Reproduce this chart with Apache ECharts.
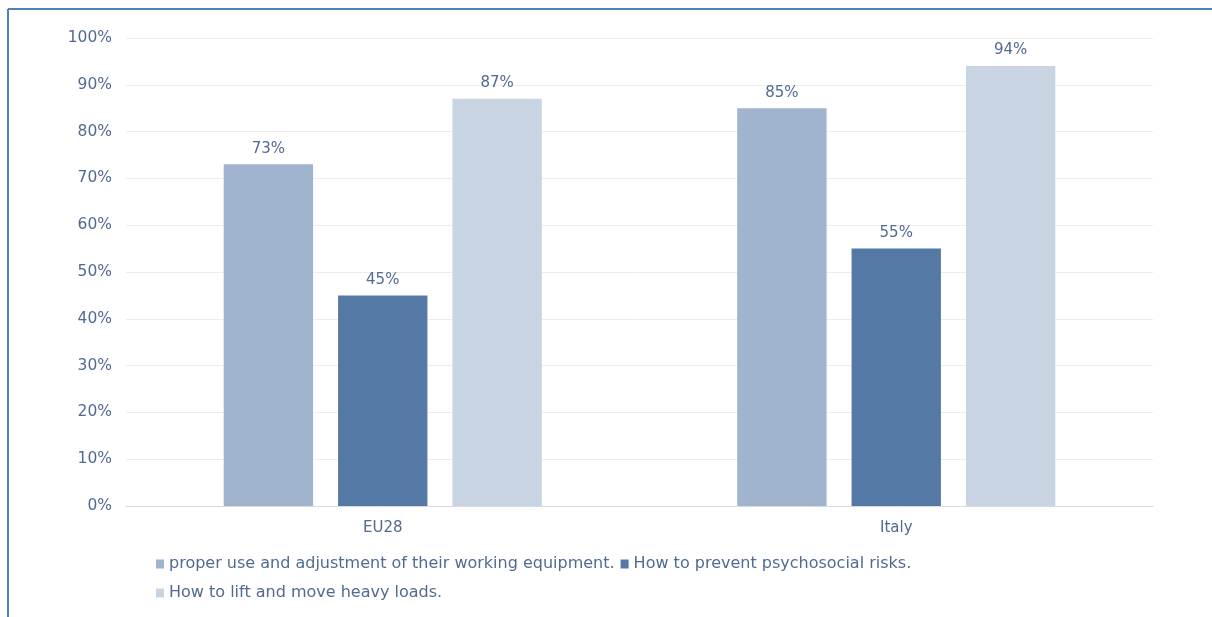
<!DOCTYPE html>
<html>
<head>
<meta charset="utf-8">
<script src="https://cdn.jsdelivr.net/npm/echarts@6/dist/echarts.min.js"></script>
<style>
  html, body { margin: 0; padding: 0; background: #fff; }
  #chart { width: 1212px; height: 617px; }
</style>
</head>
<body>
<div id="chart"></div>
<script>
// Share of workers trained on each topic, by area
const categories = ['EU28', 'Italy'];
const seriesNames = [
  'proper use and adjustment of their working equipment.',
  'How to prevent psychosocial risks.',
  'How to lift and move heavy loads.'
];
const equipmentValues = [73, 85];
const psychosocialValues = [45, 55];
const heavyLoadsValues = [87, 94];
const yTicks = [0, 10, 20, 30, 40, 50, 60, 70, 80, 90, 100];

const colors = ['#A0B4CD', '#5479A5', '#C9D4E3'];
const textColor = '#526A92';
const font = 'DejaVu Sans';

const chart = echarts.init(document.getElementById('chart'), null, { renderer: 'canvas' });

function barSeries(name, values, color) {
  return {
    name: name,
    type: 'bar',
    data: values,
    barWidth: '17.4%',
    barGap: '28%',
    itemStyle: { color: color },
    label: {
      show: true,
      position: 'top',
      distance: 8,
      formatter: p => p.value + '%',
      color: textColor,
      fontFamily: font,
      fontSize: 15
    }
  };
}

const legendText = { color: textColor, fontSize: 16, fontFamily: font };

chart.setOption({
  animation: false,
  backgroundColor: '#ffffff',
  textStyle: { fontFamily: font },
  grid: { left: 126, right: 59, top: 38, bottom: 111 },
  xAxis: {
    type: 'category',
    data: categories,
    axisTick: { show: false },
    axisLine: { lineStyle: { color: '#D9D9D9', width: 1 } },
    axisLabel: { color: textColor, fontSize: 15, fontFamily: font, margin: 15 }
  },
  yAxis: {
    type: 'value',
    min: yTicks[0],
    max: yTicks[yTicks.length - 1],
    interval: 10,
    axisLine: { show: false },
    axisTick: { show: false },
    splitLine: { lineStyle: { color: '#EDEDED', width: 1 } },
    axisLabel: { color: textColor, fontSize: 15.5, fontFamily: font, margin: 14, formatter: v => v + '%' }
  },
  legend: [
    {
      data: [seriesNames[0], seriesNames[1]],
      left: 151, top: 551,
      itemWidth: 8, itemHeight: 9, itemGap: 6,
      icon: 'rect',
      textStyle: legendText
    },
    {
      data: [seriesNames[2]],
      left: 151, top: 580,
      itemWidth: 8, itemHeight: 9, itemGap: 6,
      icon: 'rect',
      textStyle: legendText
    }
  ],
  graphic: [
    { type: 'line', shape: { x1: 8, y1: 9, x2: 1212, y2: 9 }, style: { stroke: '#4F81BD', lineWidth: 2 } },
    { type: 'line', shape: { x1: 8, y1: 9, x2: 8, y2: 617 }, style: { stroke: '#4F81BD', lineWidth: 2 } }
  ],
  series: [
    barSeries(seriesNames[0], equipmentValues, colors[0]),
    barSeries(seriesNames[1], psychosocialValues, colors[1]),
    barSeries(seriesNames[2], heavyLoadsValues, colors[2])
  ]
});
</script>
</body>
</html>
